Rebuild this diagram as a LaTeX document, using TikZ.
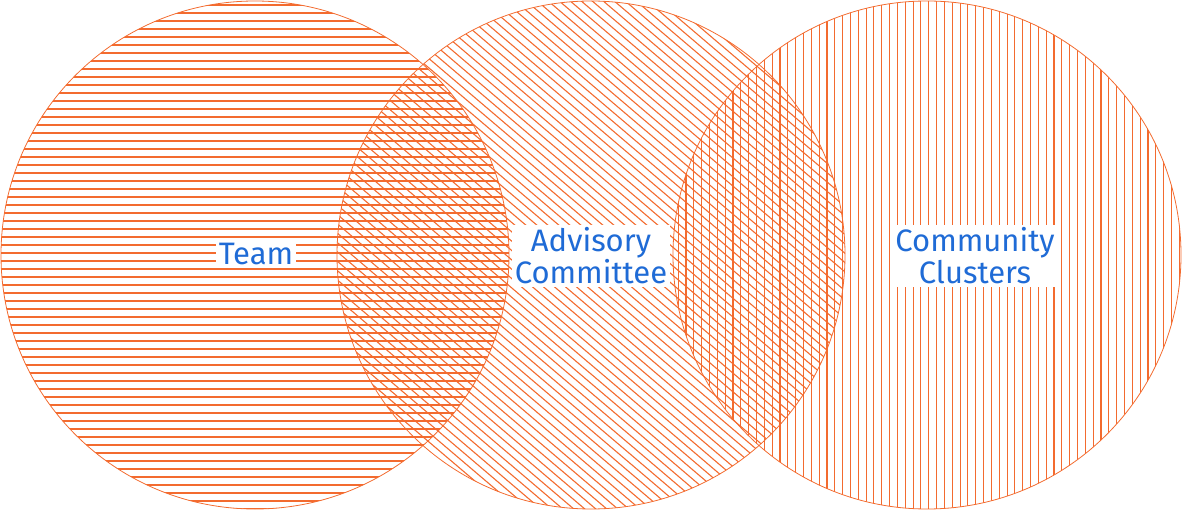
\documentclass[tikz,border=0pt]{standalone}
\usepackage{fontspec}
\setmainfont{Fira Sans}
\definecolor{hatchorange}{HTML}{F36B2F}
\definecolor{labelblue}{HTML}{1F6BD6}
\begin{document}
\begin{tikzpicture}[x=1pt,y=-1pt,
  hatch/.style={draw=hatchorange,line width=1.1pt},
  rim/.style={draw=hatchorange,line width=0.8pt},
  lbl/.style={fill=white,text=labelblue,align=center,inner sep=3pt,
    font=\fontsize{31}{32}\selectfont}]
\useasboundingbox (0,0) rectangle (1183,510);
\coordinate (cA) at (255,255);
\coordinate (cB) at (591,255);
\coordinate (cC) at (927,255);
% left circle: horizontal hatching
\begin{scope}
  \clip (cA) circle (254);
  \foreach \y in {5,13,...,509} \draw[hatch] (0,\y) -- (520,\y);
\end{scope}
% middle circle: diagonal hatching
\begin{scope}
  \clip (cB) circle (254);
  \foreach \x in {-300,-289,...,860} \draw[hatch] (\x,0) -- ++(620,527);
\end{scope}
% right circle: vertical hatching
\begin{scope}
  \clip (cC) circle (254);
  \foreach \k in {0,...,66} \draw[hatch] ({1179.3-7.83*\k},0) -- ({1179.3-7.83*\k},510);
\end{scope}
\draw[rim] (cA) circle (254);
\draw[rim] (cB) circle (254);
\draw[rim] (cC) circle (254);
\node[lbl] (team) at (256,254) {Team};
\node[lbl] (adv) at (591,256) {Advisory\\Committee};
\node[lbl] (comm) at (975,256) {Community\\Clusters};
\end{tikzpicture}
\end{document}
